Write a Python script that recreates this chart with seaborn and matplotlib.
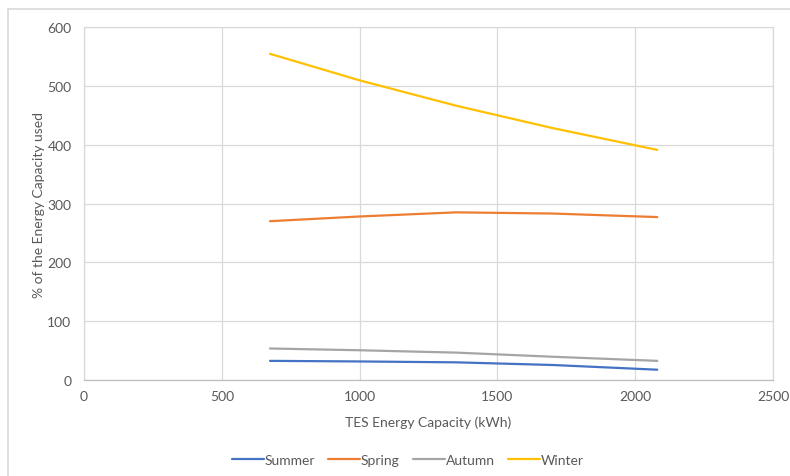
import matplotlib
matplotlib.use("Agg")
import matplotlib.pyplot as plt
from matplotlib.lines import Line2D
import seaborn as sns
import pandas as pd

# TES energy capacity (kWh) and share of capacity used per season (%)
capacity_kwh = [675, 1000, 1350, 1700, 2080]
summer = [33, 32, 30.5, 26, 18]
spring = [270, 278, 285, 283, 277]
autumn = [54, 51, 47, 40, 33]
winter = [554, 509, 466, 428, 391]

seasons = ["Summer", "Spring", "Autumn", "Winter"]
colors = ["#4472C4", "#ED7D31", "#A5A5A5", "#FFC000"]
x_ticks = [0, 500, 1000, 1500, 2000, 2500]
y_ticks = [0, 100, 200, 300, 400, 500, 600]

df = pd.DataFrame({
    "capacity": capacity_kwh * 4,
    "value": summer + spring + autumn + winter,
    "season": sum([[s] * len(capacity_kwh) for s in seasons], []),
})

sns.set_theme(style="white")
plt.rcParams["font.family"] = ["Lato", "DejaVu Sans"]
text_color = "#595959"
grid_color = "#d9d9d9"
fs = 10

fig = plt.figure(figsize=(7.9, 4.77), dpi=100)
ax = fig.add_axes([0.1063, 0.2006, 0.8722, 0.7413])

sns.lineplot(data=df, x="capacity", y="value", hue="season",
             hue_order=seasons, palette=colors, linewidth=1.6,
             ax=ax, legend=False)

ax.set_xlim(0, 2500)
ax.set_ylim(0, 600)
ax.set_xticks(x_ticks)
ax.set_yticks(y_ticks)
ax.grid(True, color=grid_color, linewidth=0.9)
ax.set_axisbelow(True)
for side, sp in ax.spines.items():
    sp.set_visible(True)
    sp.set_color(grid_color)
    sp.set_linewidth(0.9)
ax.spines["bottom"].set_color("#bfbfbf")

ax.tick_params(axis="both", length=0, labelsize=fs, labelcolor=text_color)
ax.tick_params(axis="y", pad=9)
ax.tick_params(axis="x", pad=7)

ax.set_xlabel("TES Energy Capacity (kWh)", fontsize=fs, color=text_color, labelpad=10)
ax.set_ylabel("% of the Energy Capacity used", fontsize=fs, color=text_color, labelpad=2)

handles = [Line2D([0], [0], color=c, linewidth=1.6) for c in colors]
fig.legend(handles, seasons, loc="center", bbox_to_anchor=(0.516, 0.034),
           ncol=4, frameon=False, fontsize=fs, labelcolor=text_color,
           handlelength=2.3, handletextpad=0.05, columnspacing=0.95)

# chart-area frame
fig.add_artist(Line2D([8 / 790, 1], [1 - 10 / 477, 1 - 10 / 477],
                      color=grid_color, linewidth=1.2, transform=fig.transFigure))
fig.add_artist(Line2D([8 / 790, 8 / 790], [0, 1 - 10 / 477],
                      color=grid_color, linewidth=1.2, transform=fig.transFigure))

fig.savefig("out.png", dpi=100)
